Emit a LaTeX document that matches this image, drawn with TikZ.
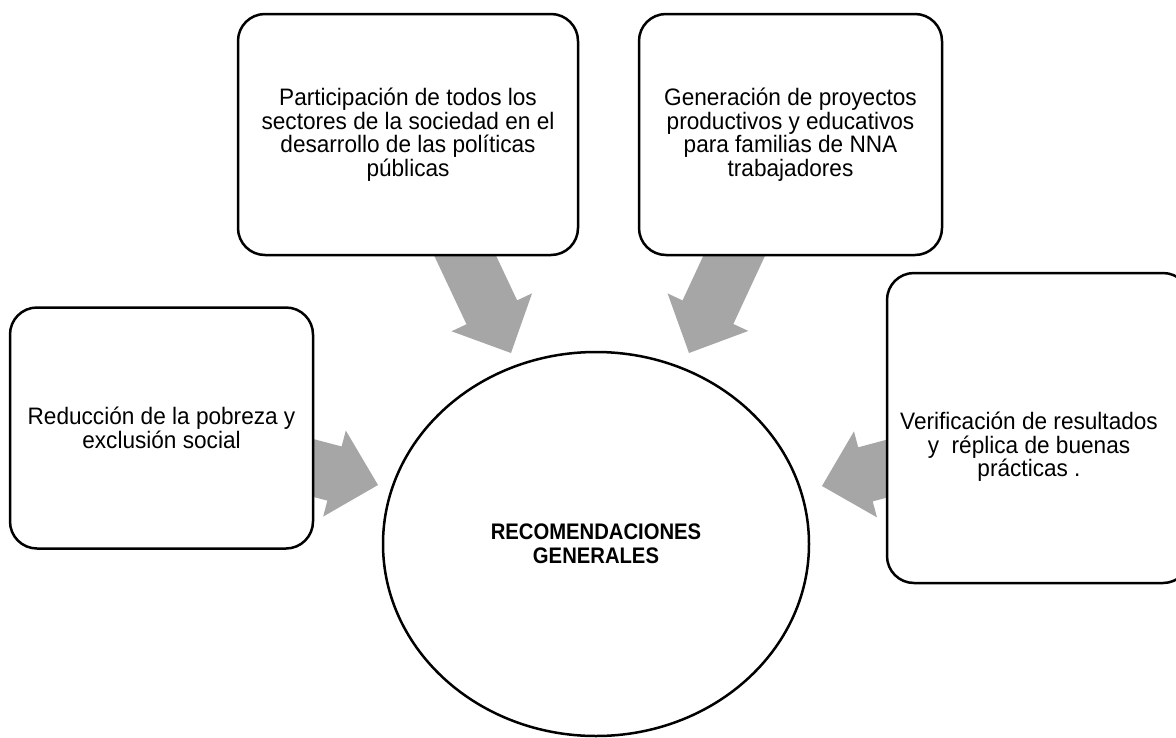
\documentclass[tikz,border=0pt]{standalone}
\usepackage{fontspec}
\setmainfont{Liberation Sans}
\newfontfamily\narrowsans[FakeStretch=0.95]{Liberation Sans}
\newfontfamily\hubsans[FakeStretch=0.9]{Liberation Sans}
\usetikzlibrary{calc,backgrounds,shapes.geometric}
\definecolor{arrowgray}{RGB}{166,166,166}
\tikzset{
  boxtext/.style={align=center, inner sep=0pt, font=\narrowsans\fontsize{23.8}{23.5}\selectfont},
  box/.style={boxtext, draw=black, line width=2.5pt, rounded corners=27pt, fill=white,
              minimum height=241pt, minimum width=303pt},
  hub/.style={ellipse, draw=black, line width=2.5pt, fill=white, minimum width=426pt,
              minimum height=384pt, inner sep=0pt, align=center,
              font=\hubsans\fontsize{22.5}{24}\selectfont\bfseries},
  blockarrow/.style={fill=arrowgray, draw=none},
}
% #1 = source node, #2 = tip coordinate
\newcommand{\radialarrow}[2]{%
  \coordinate (ra-b) at ($(#2)!45pt!(#1.center)$);
  \fill[blockarrow] ($(#1.center)!28pt!90:(#2)$) -- ($(ra-b)!28pt!90:(#2)$)
     -- ($(ra-b)!44.5pt!90:(#2)$) -- (#2) -- ($(ra-b)!44.5pt!-90:(#2)$)
     -- ($(ra-b)!28pt!-90:(#2)$) -- ($(#1.center)!28pt!-90:(#2)$) -- cycle;
}
\begin{document}
\begin{tikzpicture}[x=1pt, y=-1pt]
\useasboundingbox (0,0) rectangle (1176,737);

\node[box, minimum width=340pt] (b1) at (408,134.5)
  {Participación de todos los\\ sectores de la sociedad en el\\ desarrollo de las políticas\\ públicas};
\node[box] (b2) at (790.5,134.5)
  {Generación de proyectos\\ productivos y educativos\\ para familias de NNA\\ trabajadores};
\node[box] (b3) at (161.5,428)
  {Reducción de la pobreza y\\ exclusión social};
\node[box, minimum height=310pt] (b4) at (1038.5,428) {};
\node[boxtext] (b4t) at (1029,447)
  {Verificación de resultados\\ y\ \ réplica de buenas\\ prácticas .};
\node[hub] (hub) at (596,544) {RECOMENDACIONES\\ GENERALES};

\coordinate (t1) at (511,353);
\coordinate (t2) at (689,353);
\coordinate (t3) at (378,485);
\coordinate (t4) at (822,486);

\begin{scope}[on background layer]
  \fill[white] (0,0) rectangle (1176,737);
  \radialarrow{b1}{t1}
  \radialarrow{b2}{t2}
  \radialarrow{b3}{t3}
  \radialarrow{b4}{t4}
\end{scope}
\end{tikzpicture}
\end{document}
